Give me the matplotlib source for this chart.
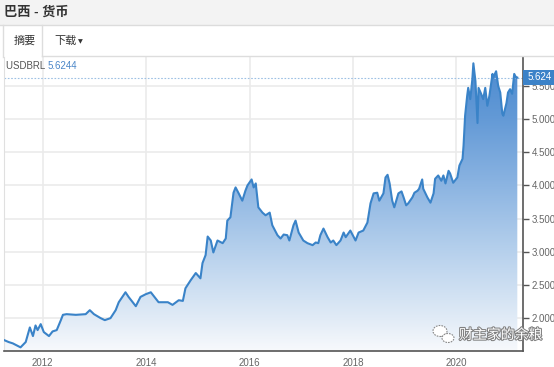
import matplotlib
matplotlib.use("Agg")
import matplotlib.pyplot as plt
import numpy as np
from matplotlib.colors import LinearSegmentedColormap
from matplotlib.patches import Rectangle, Ellipse
from matplotlib.lines import Line2D
import matplotlib.patheffects as pe

plt.rcParams['font.family'] = ['Liberation Sans', 'Noto Sans CJK SC', 'DejaVu Sans']

title = "巴西 - 货币"
tab1 = "摘要"
tab2 = "下载"
symbol = "USDBRL"
last_value = 5.6244
watermark = "财主家的余粮"

years = [2011.25, 2011.34, 2011.42, 2011.52, 2011.57, 2011.67, 2011.75, 2011.81, 2011.86, 2011.90,
         2011.96, 2012.02, 2012.12, 2012.19, 2012.27, 2012.35, 2012.39, 2012.46, 2012.64, 2012.83,
         2012.91, 2012.99, 2013.12, 2013.20, 2013.31, 2013.41, 2013.47, 2013.60, 2013.66, 2013.80,
         2013.89, 2013.99, 2014.09, 2014.24, 2014.42, 2014.51, 2014.63, 2014.71, 2014.76, 2014.86,
         2014.96, 2015.05, 2015.09, 2015.15, 2015.19, 2015.25, 2015.30, 2015.38, 2015.48, 2015.54,
         2015.57, 2015.63, 2015.69, 2015.73, 2015.79, 2015.86, 2015.92, 2015.96, 2016.04, 2016.08,
         2016.12, 2016.17, 2016.25, 2016.31, 2016.39, 2016.44, 2016.54, 2016.60, 2016.66, 2016.73,
         2016.77, 2016.85, 2016.89, 2016.95, 2017.04, 2017.12, 2017.22, 2017.28, 2017.33, 2017.37,
         2017.43, 2017.51, 2017.57, 2017.62, 2017.68, 2017.76, 2017.82, 2017.86, 2017.95, 2018.05,
         2018.11, 2018.20, 2018.28, 2018.34, 2018.40, 2018.47, 2018.51, 2018.59, 2018.63, 2018.67,
         2018.71, 2018.76, 2018.80, 2018.88, 2018.94, 2018.98, 2019.03, 2019.07, 2019.15, 2019.19,
         2019.25, 2019.28, 2019.34, 2019.36, 2019.44, 2019.50, 2019.56, 2019.59, 2019.65, 2019.71,
         2019.75, 2019.79, 2019.85, 2019.88, 2019.94, 2020.02, 2020.06, 2020.12, 2020.14, 2020.17,
         2020.21, 2020.23, 2020.27, 2020.31, 2020.33, 2020.37, 2020.41, 2020.43, 2020.48, 2020.52,
         2020.56, 2020.60, 2020.64, 2020.70, 2020.71, 2020.77, 2020.81, 2020.85, 2020.89, 2020.91,
         2020.97, 2021.00, 2021.04, 2021.08, 2021.12, 2021.16, 2021.18]
usdbrl = [1.67, 1.64, 1.62, 1.58, 1.56, 1.64, 1.86, 1.73, 1.89, 1.82,
          1.91, 1.79, 1.73, 1.80, 1.82, 1.97, 2.05, 2.06, 2.05, 2.06,
          2.12, 2.06, 2.00, 1.97, 2.00, 2.12, 2.24, 2.39, 2.32, 2.18,
          2.32, 2.36, 2.39, 2.24, 2.24, 2.20, 2.27, 2.26, 2.45, 2.57,
          2.68, 2.60, 2.83, 2.95, 3.23, 3.17, 2.99, 3.17, 3.13, 3.20,
          3.47, 3.52, 3.89, 3.97, 3.88, 3.77, 3.92, 4.00, 4.09, 3.97,
          4.03, 3.67, 3.59, 3.55, 3.59, 3.40, 3.25, 3.20, 3.26, 3.25,
          3.17, 3.40, 3.47, 3.29, 3.17, 3.13, 3.10, 3.14, 3.13, 3.25,
          3.35, 3.22, 3.14, 3.17, 3.10, 3.17, 3.29, 3.22, 3.32, 3.17,
          3.29, 3.32, 3.44, 3.73, 3.88, 3.89, 3.77, 3.88, 4.12, 4.16,
          4.03, 3.77, 3.67, 3.88, 3.91, 3.82, 3.70, 3.73, 3.82, 3.89,
          3.92, 3.95, 4.09, 3.95, 3.82, 3.74, 3.88, 4.10, 4.15, 4.07,
          4.15, 4.03, 4.22, 4.18, 4.04, 4.12, 4.30, 4.40, 4.60, 5.05,
          5.35, 5.47, 5.30, 5.60, 5.84, 5.57, 4.94, 5.47, 5.38, 5.30,
          5.47, 5.20, 5.35, 5.68, 5.62, 5.72, 5.50, 5.40, 5.08, 5.05,
          5.24, 5.40, 5.45, 5.38, 5.68, 5.62, 5.6244]

x_ticks = [2012, 2014, 2016, 2018, 2020]
x_labels = ["2012", "2014", "2016", "2018", "2020"]
y_ticks = [2.0, 2.5, 3.0, 3.5, 4.0, 4.5, 5.0, 5.5]
y_labels = ["2.000", "2.500", "3.000", "3.500", "4.000", "4.500", "5.000", "5.500"]

W, H = 554, 367
fig = plt.figure(figsize=(W / 100, H / 100), dpi=100)
fig.patch.set_facecolor("white")

def fx(px):
    return px / W

def fy(py):
    return 1 - py / H

# header band
fig.patches.append(Rectangle((0, fy(25)), 1, 25 / H, transform=fig.transFigure,
                             facecolor="#f3f3f3", edgecolor="none", zorder=0))
fig.lines.append(Line2D([0, 1], [fy(25), fy(25)], transform=fig.transFigure, color="#dcdcdc", lw=1))
fig.text(fx(4), fy(12.5), title, fontsize=9.5, fontweight="bold", color="#333333",
         va="center", ha="left")
# tabs
fig.lines.append(Line2D([fx(3), fx(3)], [fy(25), fy(57)], transform=fig.transFigure, color="#dddddd", lw=1))
fig.lines.append(Line2D([fx(42), fx(42)], [fy(25), fy(56)], transform=fig.transFigure, color="#dddddd", lw=1))
fig.lines.append(Line2D([fx(42), 1], [fy(56), fy(56)], transform=fig.transFigure, color="#dddddd", lw=1))
fig.text(fx(13.5), fy(41), tab1, fontsize=8, color="#333333", va="center", ha="left")
fig.text(fx(54), fy(41), tab2, fontsize=8, color="#333333", va="center", ha="left")
fig.text(fx(78), fy(41.5), "▼", fontsize=4.5, color="#333333", va="center", ha="left",
         family=["DejaVu Sans"])
# symbol line
t = fig.text(fx(6), fy(66), symbol + " ", fontsize=7, color="#555555", va="center", ha="left")
fig.canvas.draw()
bb = t.get_window_extent()
fig.text(bb.x1 / W, fy(66), f"{last_value:.4f}", fontsize=7, color="#4a86c8", va="center", ha="left")

# main axes
ax = fig.add_axes([fx(4), fy(351), fx(523) - fx(4), (351 - 57) / H])
xmin, xmax = 2011.25, 2021.29
ymin, ymax = 1.505, 5.935
ax.set_xlim(xmin, xmax)
ax.set_ylim(ymin, ymax)

ax.set_xticks(x_ticks)
ax.set_xticklabels(x_labels)
ax.set_yticks(y_ticks)
ax.set_yticklabels(y_labels)
ax.yaxis.tick_right()
ax.tick_params(axis="x", length=0, pad=5, labelsize=7, labelcolor="#666666")
ax.tick_params(axis="y", length=4, width=1, color="#555555", pad=2, labelsize=7, labelcolor="#666666")
ax.grid(True, color="#ebebeb", lw=1.2, zorder=0)
ax.set_axisbelow(True)
ax.spines["top"].set_visible(False)
ax.spines["left"].set_color("#e0e0e0")
ax.spines["bottom"].set_color("#555555")
ax.spines["right"].set_color("#555555")
ax.spines["bottom"].set_linewidth(1.2)
ax.spines["right"].set_linewidth(1.2)

# gradient fill
cmap = LinearSegmentedColormap.from_list("g", [
    (0.0, "#f7f9fc"),
    (0.12, "#dfeaf6"),
    (0.35, "#b4cfec"),
    (0.6, "#85b0e0"),
    (0.8, "#6299d6"),
    (1.0, "#4a89cf"),
])
grad = np.linspace(0, 1, 256).reshape(-1, 1)
poly = ax.fill_between(years, usdbrl, ymin, color="none", lw=0)
img = ax.imshow(grad, extent=[xmin, xmax, ymin, ymax], origin="lower", aspect="auto",
                cmap=cmap, zorder=1)
img.set_clip_path(poly.get_paths()[0], transform=ax.transData)
ax.plot(years, usdbrl, color="#3a83c8", lw=1.5, zorder=3, solid_joinstyle="round")

# last-value dotted line and label
ax.axhline(last_value, color="#9dc0e4", lw=0.8, ls=(0, (1.5, 1.5)), zorder=2)
fig.patches.append(Rectangle((fx(523), fy(85)), fx(40), 15 / H, transform=fig.transFigure,
                             facecolor="#3b82c8", edgecolor="none", zorder=5))
fig.text(fx(528), fy(77.5), "5.624", fontsize=7, color="white", va="center", ha="left", zorder=6)

# watermark
stroke = [pe.withStroke(linewidth=1.5, foreground="#808080")]
fig.text(fx(459), fy(335), watermark, fontsize=10, color="white", va="center", ha="left",
         path_effects=stroke, zorder=7)
e1 = Ellipse((fx(440), fy(331)), fx(14), 11 / H, transform=fig.transFigure, facecolor="white",
             edgecolor="#888888", lw=0.8, ls=(0, (1.5, 1)), zorder=7)
e2 = Ellipse((fx(448), fy(338)), fx(12), 9 / H, transform=fig.transFigure, facecolor="white",
             edgecolor="#888888", lw=0.8, ls=(0, (1.5, 1)), zorder=7)
fig.patches.append(e1)
fig.patches.append(e2)

fig.savefig("out.png", dpi=100, facecolor="white")
